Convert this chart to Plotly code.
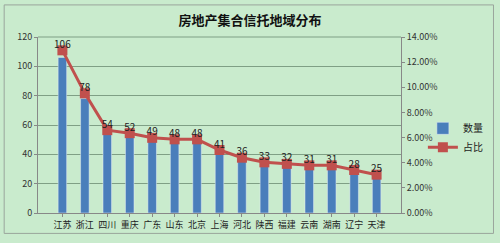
import plotly.graph_objects as go

regions = ["江苏", "浙江", "四川", "重庆", "广东", "山东", "北京", "上海", "河北", "陕西", "福建", "云南", "湖南", "辽宁", "天津"]
counts = [106, 78, 54, 52, 49, 48, 48, 41, 36, 33, 32, 31, 31, 28, 25]
shares = [0.1294, 0.0952, 0.0659, 0.0635, 0.0598, 0.0586, 0.0586, 0.0501, 0.0440, 0.0403, 0.0391, 0.0379, 0.0379, 0.0342, 0.0305]

W, H = 500, 243
L, R, T, B = 38, 97, 37, 25
pw, ph = W - L - R, H - T - B

def px(x):
    return (x - L) / pw

def py(y):
    return (H - B - y) / ph

fig = go.Figure()
fig.add_trace(go.Bar(x=regions, y=counts, name="数量", marker_color="#4A7EBB",
                     width=0.38, yaxis="y"))
fig.add_trace(go.Scatter(x=regions, y=shares, name="占比", yaxis="y2",
                         mode="lines+markers",
                         line=dict(color="#C0504D", width=3),
                         marker=dict(symbol="square", size=10, color="#C0504D")))
fig.add_trace(go.Scatter(x=regions, y=shares, yaxis="y2", mode="text", showlegend=False,
                         text=[str(c) for c in counts], textposition="top center",
                         cliponaxis=False, hoverinfo="skip",
                         textfont=dict(size=10, color="#222222", family="Noto Sans CJK SC")))

fig.update_layout(
    width=W, height=H,
    margin=dict(l=L, r=R, t=T, b=B),
    paper_bgcolor="#C9EBCD", plot_bgcolor="#C9EBCD",
    title=dict(text="<b>房地产集合信托地域分布</b>", x=0.5, xanchor="center", y=1 - 20 / H, yanchor="middle",
               font=dict(size=13, color="#111111", family="Noto Sans CJK SC")),
    font=dict(family="Noto Sans CJK SC", size=9, color="#333333"),
    xaxis=dict(showline=True, linecolor="#888888", ticks="outside", ticklen=3, tickcolor="#888888",
               tickfont=dict(size=9, color="#222222"), showgrid=False),
    yaxis=dict(range=[0, 120], dtick=20, showgrid=True, gridcolor="#7F9F85", gridwidth=1,
               showline=True, linecolor="#888888", ticks="outside", ticklen=3, tickcolor="#888888",
               tickfont=dict(size=9, color="#333333"), zeroline=False),
    yaxis2=dict(range=[0, 0.14], dtick=0.02, tickformat=".2%", overlaying="y", side="right",
                showgrid=False, showline=True, linecolor="#888888", ticks="outside", ticklen=3,
                tickcolor="#888888", tickfont=dict(size=9, color="#333333"), zeroline=False),
    legend=dict(x=px(425), y=py(116), xanchor="left", yanchor="top", bgcolor="rgba(0,0,0,0)",
                font=dict(size=10, color="#222222"), tracegroupgap=2),
    showlegend=True,
    shapes=[
        dict(type="rect", xref="paper", yref="paper", x0=px(4), x1=px(496), y0=py(239), y1=py(4),
             line=dict(color="#9AA59C", width=1), fillcolor="rgba(0,0,0,0)", layer="below"),
        dict(type="line", xref="paper", yref="paper", x0=0, x1=1, y0=1, y1=1,
             line=dict(color="#7F9F85", width=1)),
    ],
)

fig.write_html("out.html")
